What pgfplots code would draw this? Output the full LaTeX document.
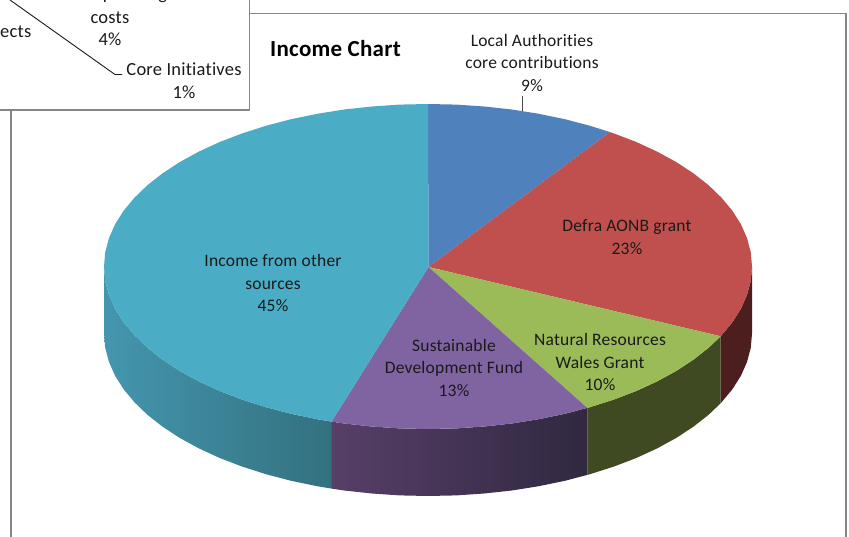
\documentclass[border=0pt]{standalone}
\usepackage{fontspec}
\setmainfont{Carlito}[Ligatures=NoCommon, LetterSpace=1.2]
\usepackage{pgfplots}
\pgfplotsset{compat=1.18}

\definecolor{pieblue}{HTML}{4F81BD}
\definecolor{piered}{HTML}{C0504D}
\definecolor{piegreen}{HTML}{9BBB59}
\definecolor{piepurple}{HTML}{8064A2}
\definecolor{piecyan}{HTML}{4BACC6}
\definecolor{sidered}{HTML}{4C1F1E}
\definecolor{sidegreen}{HTML}{404A22}
\definecolor{sidepurpleL}{HTML}{573F68}
\definecolor{sidepurpleR}{HTML}{302840}
\definecolor{sidecyanL}{HTML}{4496AE}
\definecolor{sidecyanR}{HTML}{33717F}
\definecolor{framegray}{HTML}{868686}
\definecolor{labeltext}{HTML}{1A1A1A}

\begin{document}
\begin{tikzpicture}
\path[use as bounding box, clip] (0,0) rectangle (849pt,537pt);
\begin{axis}[
    at={(0,0)}, anchor=south west,
    scale only axis,
    width=849pt,
    height=537pt,
    xmin=0, xmax=849,
    ymin=0, ymax=537,
    y dir=reverse,
    hide axis,
    clip=false,
    nodes={text=labeltext, font=\fontsize{17.5}{22.5}\selectfont, align=center, inner sep=0pt},
]

% outer chart frame
\addplot[framegray, line width=1.1pt] coordinates {(11,537)(11,13.5)(846,13.5)(846,537)};

% side walls
\addplot[draw=none, fill=sidered] coordinates {
    (752,266.5)(750.8,280.7)(747.1,294.7)(741,308.6)(732.5,322.1)(721.6,335.2)(720.7,336.3)
    (720.7,403.3)(721.6,402.2)(732.5,389.1)(741,375.6)(747.1,361.7)(750.8,347.7)(752,333.5)
};
\addplot[draw=none, fill=sidegreen] coordinates {
    (720.7,336.3)(708.6,347.8)(693.4,359.7)(676.2,371)(657.1,381.4)(636.3,391)(613.8,399.6)(590,407.2)(587.3,407.9)
    (587.3,474.9)(590,474.2)(613.8,466.6)(636.3,458)(657.1,448.4)(676.2,438)(693.4,426.7)(708.6,414.8)(720.7,403.3)
};
\addplot[draw=none, left color=sidepurpleL, right color=sidepurpleR] coordinates {
    (587.3,407.9)(564.9,413.8)(538.8,419.2)(511.9,423.5)(484.2,426.5)(456.3,428.4)(428,429)(399.7,428.4)(371.8,426.5)(344.1,423.5)(331.5,421.6)
    (331.5,488.6)(344.1,490.5)(371.8,493.5)(399.7,495.4)(428,496)(456.3,495.4)(484.2,493.5)(511.9,490.5)(538.8,486.2)(564.9,480.8)(587.3,474.9)
};
\addplot[draw=none, left color=sidecyanL, right color=sidecyanR] coordinates {
    (331.5,421.6)(317.2,419.2)(291.1,413.8)(266,407.2)(242.2,399.6)(219.7,391)(198.9,381.4)(179.8,371)(162.6,359.7)(147.4,347.8)(134.4,335.2)(123.5,322.1)(115,308.6)(108.9,294.7)(105.2,280.7)(104,266.5)
    (104,333.5)(105.2,347.7)(108.9,361.7)(115,375.6)(123.5,389.1)(134.4,402.2)(147.4,414.8)(162.6,426.7)(179.8,438)(198.9,448.4)(219.7,458)(242.2,466.6)(266,474.2)(291.1,480.8)(317.2,486.2)(331.5,488.6)
};

% top slices
\addplot[draw=none, fill=pieblue] coordinates {
    (428.5,267)(428,104)(456.3,104.6)(484.2,106.5)(511.9,109.5)(538.8,113.8)(564.9,119.2)(590,125.8)(610,132.1)
};
\addplot[draw=none, fill=piered] coordinates {
    (428.5,267)(610,132.1)(613.8,133.4)(636.3,142)(657.1,151.6)(676.2,162)(693.4,173.3)(708.6,185.2)(721.6,197.8)(732.5,210.9)(741,224.4)(747.1,238.3)(750.8,252.3)(752,266.5)(750.8,280.7)(747.1,294.7)(741,308.6)(732.5,322.1)(721.6,335.2)(720.7,336.3)
};
\addplot[draw=none, fill=piegreen] coordinates {
    (428.5,267)(720.7,336.3)(708.6,347.8)(693.4,359.7)(676.2,371)(657.1,381.4)(636.3,391)(613.8,399.6)(590,407.2)(587.3,407.9)
};
\addplot[draw=none, fill=piepurple] coordinates {
    (428.5,267)(587.3,407.9)(564.9,413.8)(538.8,419.2)(511.9,423.5)(484.2,426.5)(456.3,428.4)(428,429)(399.7,428.4)(371.8,426.5)(344.1,423.5)(331.5,421.6)
};
\addplot[draw=none, fill=piecyan] coordinates {
    (428.5,267)(331.5,421.6)(317.2,419.2)(291.1,413.8)(266,407.2)(242.2,399.6)(219.7,391)(198.9,381.4)(179.8,371)(162.6,359.7)(147.4,347.8)(134.4,335.2)(123.5,322.1)(115,308.6)(108.9,294.7)(105.2,280.7)(104,266.5)(105.2,252.3)(108.9,238.3)(115,224.4)(123.5,210.9)(134.4,197.8)(147.4,185.2)(162.6,173.3)(179.8,162)(198.9,151.6)(219.7,142)(242.2,133.4)(266,125.8)(291.1,119.2)(317.2,113.8)(344.1,109.5)(371.8,106.5)(399.7,104.6)(428,104)
};

% leader of the 9% label
\addplot[labeltext!80, line width=0.9pt] coordinates {(522.5,96)(522.5,111)};

% the other chart that overlaps the top left corner
\addplot[draw=none, fill=white] coordinates {(0,0)(249.5,0)(249.5,110)(0,110)};
\addplot[framegray, line width=1.1pt] coordinates {(0,110)(249.5,110)(249.5,0)};
\addplot[labeltext, line width=0.9pt] coordinates {(10,0)(115,74.5)(122,74.5)};

\node[font=\fontsize{18.5}{22.5}\selectfont] at (axis cs:110,-5.5) {Core operating};
\node[font=\fontsize{18.5}{22.5}\selectfont] at (axis cs:110,28.5) {costs\\4\%};
\node[anchor=east, font=\fontsize{18.5}{22.5}\selectfont] at (axis cs:31.5,33) {Projects};
\node[font=\fontsize{18.5}{22.5}\selectfont] at (axis cs:184,80.5) {Core Initiatives\\1\%};

\node[font=\fontsize{23}{25}\selectfont\bfseries, text=black] at (axis cs:335.5,49) {Income Chart};
\node at (axis cs:532,63) {Local Authorities\\core contributions\\9\%};
\node at (axis cs:627,237) {Defra AONB grant\\23\%};
\node at (axis cs:600,362) {Natural Resources\\Wales Grant\\10\%};
\node at (axis cs:454,367.5) {Sustainable\\Development Fund\\13\%};
\node at (axis cs:273,283) {Income from other\\sources\\45\%};

\end{axis}
\end{tikzpicture}
\end{document}
